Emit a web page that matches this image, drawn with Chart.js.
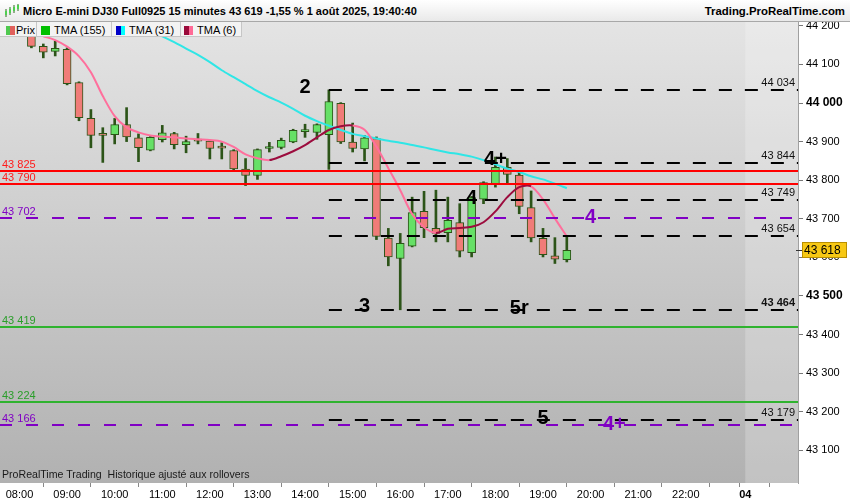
<!DOCTYPE html>
<html lang="fr">
<head>
<meta charset="utf-8">
<title>Micro E-mini DJ30 Full0925 15 minutes</title>
<script src="https://cdn.jsdelivr.net/npm/chart.js@4.4.1/dist/chart.umd.min.js"></script>
<style>
  body { margin: 0; background: #fff; }
  #wrap { position: relative; width: 850px; height: 500px; overflow: hidden; font-family: "Liberation Sans", Arial, sans-serif; }
  #c { position: absolute; left: 0; top: 0; }
  #head { position: absolute; left: 0; top: 0; width: 850px; height: 21px; background: linear-gradient(#ffffff, #e9e9e9); border-bottom: 1px solid #a8a8a8; font-weight: bold; line-height: 22px; color: #000; }
  #head .title { position: absolute; left: 23px; top: 0; font-size: 11px; }
  #head .site { position: absolute; right: 5px; top: 0; font-size: 11.4px; }
  #head svg { position: absolute; left: 4px; top: 4px; }
  .leg { position: absolute; top: 22px; height: 15px; background: #f3f3f3; border-right: 1px solid #c6c6c6; border-bottom: 1px solid #c6c6c6; font-size: 11px; line-height: 16px; color: #000; white-space: nowrap; box-sizing: border-box; }
  .sw { display: inline-block; width: 9px; height: 9px; margin: 0 4px 0 0; vertical-align: -1px; }
  #foot { position: absolute; left: 2px; top: 468px; font-size: 10.6px; color: #1a1a1a; white-space: pre; }
</style>
</head>
<body>
<div id="wrap">
  <canvas id="c" width="850" height="500"></canvas>
  <div id="head">
    <svg width="16" height="14" viewBox="0 0 16 14">
      <line x1="2" y1="5" x2="2" y2="13" stroke="#2f6a1f" stroke-width="1"/><rect x="1" y="7" width="2" height="4" fill="#4fcf4f"/>
      <line x1="6" y1="3" x2="6" y2="11" stroke="#2f6a1f" stroke-width="1"/><rect x="5" y="5" width="2" height="4" fill="#4fcf4f"/>
      <line x1="10" y1="1" x2="10" y2="9" stroke="#2f6a1f" stroke-width="1"/><rect x="9" y="3" width="2" height="4" fill="#4fcf4f"/>
      <line x1="14" y1="0" x2="14" y2="7" stroke="#2f6a1f" stroke-width="1"/><rect x="13" y="1" width="2" height="4" fill="#4fcf4f"/>
    </svg>
    <span class="title">Micro E-mini DJ30 Full0925 15 minutes 43 619 -1,55 % 1 août 2025, 19:40:40</span>
    <span class="site">Trading.ProRealTime.com</span>
  </div>
  <div class="leg" style="left:0;width:37px;padding-left:6px"><i class="sw" style="background:linear-gradient(to right,#4fc94f 50%,#e0605c 50%);margin-right:1px"></i>Prix</div>
  <div class="leg" style="left:37px;width:75px;padding-left:4px"><i class="sw" style="background:#00c000"></i>TMA (155)</div>
  <div class="leg" style="left:112px;width:69px;padding-left:4px"><i class="sw" style="background:linear-gradient(to right,#0000c8 50%,#00ffff 50%)"></i>TMA (31)</div>
  <div class="leg" style="left:181px;width:61px;padding-left:3px"><i class="sw" style="background:linear-gradient(to right,#9a0a3a 50%,#ff6a96 50%)"></i>TMA (6)</div>
  <div id="foot">ProRealTime Trading  Historique ajusté aux rollovers</div>
</div>
<script>
// bougies 15 minutes
const times  = ['08:15','08:30','08:45','09:00','09:15','09:30','09:45','10:00','10:15','10:30','10:45','11:00',
                '11:15','11:30','11:45','12:00','12:15','12:30','12:45','13:00','13:15','13:30','13:45','14:00',
                '14:15','14:30','14:45','15:00','15:15','15:30','15:45','16:00','16:15','16:30','16:45','17:00',
                '17:15','17:30','17:45','18:00','18:15','18:30','18:45','19:00','19:15','19:30'];
const opens  = [44185,44147,44134,44139,44053,43960,43918,43918,43944,43910,43878,43905,
                43921,43892,43903,43901,43885,43877,43829,43812,43882,43885,43899,43926,
                43924,43918,43999,43899,43881,43908,43650,43597,43629,43719,43675,43664,
                43690,43612,43751,43790,43833,43813,43729,43649,43604,43594];
const highs  = [44200,44153,44160,44143,44055,43983,43936,43960,43988,43920,43913,43942,
                43924,43914,43921,43903,43897,43879,43856,43881,43898,43909,43932,43945,
                43946,44034,44001,43948,43916,43912,43675,43662,43756,43771,43774,43756,
                43739,43758,43796,43860,43856,43823,43772,43675,43651,43653];
const lows   = [44143,44117,44122,44047,43954,43884,43846,43894,43900,43848,43876,43899,
                43881,43871,43894,43855,43855,43827,43786,43802,43873,43881,43897,43911,
                43906,43828,43895,43873,43850,43646,43578,43464,43627,43651,43640,43640,
                43601,43601,43739,43782,43790,43713,43640,43601,43584,43588];
const closes = [44147,44132,44142,44050,43962,43916,43916,43944,43912,43884,43911,43923,
                43892,43900,43901,43882,43883,43829,43812,43879,43887,43903,43929,43928,
                43944,44004,43899,43882,43910,43654,43601,43636,43716,43677,43662,43696,
                43616,43755,43794,43833,43815,43732,43650,43607,43595,43618];

// moyennes mobiles triangulaires
const tma6  = [null,44173,44163,44146,44121,44080,44018,43966,43937,43924,43916,43913,
               43911,43908,43906,43904,43900,43886,43867,43857,43852,43862,43875,43891,
               43911,43930,43940,43942,43931,43887,43831,43774,43712,43678,43663,43674,
               43676,43679,43691,43719,43756,43782,43784,43750,43701,43654];
const tma31 = [null,null,null,null,null,null,null,null,null,null,44189,44173,
               44158,44141,44125,44106,44085,44067,44049,44031,44015,44001,43985,43967,
               43953,43941,43930,43920,43914,43908,43902,43897,43891,43885,43878,43872,
               43867,43861,43852,43841,43830,43821,43810,43802,43791,43779];

// niveaux horizontaux
const redLevels    = [43825, 43790];
const greenLevels  = [43419, 43224];
const purpleLevels = [43702, 43166];
const blackLevels  = [44034, 43844, 43749, 43654, 43464, 43179];
const blackStart   = '14:30';

// repères de vagues
const blackMarks      = ['2', '3', '4', '4+', '5r', '5'];
const blackMarkTimes  = ['14:00', '15:15', '17:30', '18:00', '18:30', '19:00'];
const blackMarkPrices = [44042, 43476, 43756, 43856, 43471, 43186];
const purpleMarks      = ['4', '4+'];
const purpleMarkTimes  = ['20:00', '20:30'];
const purpleMarkPrices = [43707, 43170];

// axes
const yTicks = [43100,43200,43300,43400,43500,43600,43700,43800,43900,44000,44100,44200];
const yBold  = [44000, 43500];
const xTickValues = [8,9,10,11,12,13,14,15,16,17,18,19,20,21,22,23,23.25,24.25];
const xTickLabels = ['08:00','09:00','10:00','11:00','12:00','13:00','14:00','15:00','16:00','17:00',
                     '18:00','19:00','20:00','21:00','22:00','','04',''];
const nextDay = 23.25;

const GREEN = '#66e066', RED = '#f07c78', EDGE = '#2c5418';
const PINK = '#ff6f9c', CRIMSON = '#9c0c3e', CYAN = '#2fe6e6', PURPLE = '#8000c4';
const FONT = '"Liberation Sans", Arial, sans-serif';

function hours(t) { const [h, m] = t.split(':').map(Number); return h + m / 60; }
function fmt(n) { return String(n).replace(/\B(?=(\d{3})+(?!\d))/g, ' '); }

const levelsPlugin = {
  id: 'levels',
  beforeDatasetsDraw(chart) {
    const { ctx, chartArea: a, scales: { x } } = chart;
    ctx.save();
    const g = ctx.createLinearGradient(0, a.top, 0, a.bottom);
    g.addColorStop(0, '#e4e4e4');
    g.addColorStop(1, '#b1b1b1');
    ctx.fillStyle = g;
    ctx.fillRect(a.left, a.top, a.right - a.left, a.bottom - a.top);
    const nx = x.getPixelForValue(nextDay);
    ctx.fillStyle = 'rgba(255,255,255,0.22)';
    ctx.fillRect(nx, a.top, a.right - nx, a.bottom - a.top);
    ctx.restore();
  },
  afterDatasetsDraw(chart) {
    const { ctx, chartArea: a, scales: { x, y } } = chart;
    ctx.save();
    ctx.beginPath();
    ctx.rect(a.left, a.top, a.right - a.left, a.bottom - a.top);
    ctx.clip();

    const hline = (p, color, dash, x0) => {
      const py = Math.round(y.getPixelForValue(p));
      ctx.strokeStyle = color;
      ctx.lineWidth = 2;
      ctx.setLineDash(dash);
      ctx.beginPath();
      ctx.moveTo(x0, py);
      ctx.lineTo(a.right, py);
      ctx.stroke();
      return py;
    };
    const leftLabel = (p, py, color) => {
      ctx.font = '11px ' + FONT;
      ctx.fillStyle = color;
      ctx.textAlign = 'left';
      ctx.textBaseline = 'alphabetic';
      ctx.fillText(fmt(p), a.left + 2, py - 3);
    };

    purpleLevels.forEach(p => leftLabel(p, hline(p, PURPLE, [12, 14], a.left), PURPLE));
    greenLevels.forEach(p => leftLabel(p, hline(p, '#2fb32f', [], a.left), '#2a9e2a'));
    redLevels.forEach(p => leftLabel(p, hline(p, '#ff0000', [], a.left), '#ff1a1a'));

    const bx = x.getPixelForValue(hours(blackStart));
    blackLevels.forEach(p => {
      const py = hline(p, '#000', [13, 13], bx);
      ctx.font = (p === 43464 ? 'bold ' : '') + '11px ' + FONT;
      ctx.fillStyle = '#111';
      ctx.textAlign = 'right';
      ctx.textBaseline = 'alphabetic';
      ctx.fillText(fmt(p), a.right - 3, py - 4);
    });

    ctx.font = 'bold 20px ' + FONT;
    ctx.textAlign = 'center';
    ctx.textBaseline = 'middle';
    ctx.fillStyle = '#000';
    blackMarks.forEach((m, i) => ctx.fillText(m, x.getPixelForValue(hours(blackMarkTimes[i])), y.getPixelForValue(blackMarkPrices[i]) + 1));
    ctx.fillStyle = PURPLE;
    purpleMarks.forEach((m, i) => ctx.fillText(m, x.getPixelForValue(hours(purpleMarkTimes[i])), y.getPixelForValue(purpleMarkPrices[i]) + 1));
    ctx.restore();
  },
  afterDraw(chart) {
    // étiquette du dernier cours
    const { ctx, chartArea: a, scales: { y } } = chart;
    const last = closes[closes.length - 1];
    const py = Math.round(y.getPixelForValue(last));
    ctx.save();
    ctx.fillStyle = '#f7c814';
    ctx.strokeStyle = '#b98f00';
    ctx.lineWidth = 1;
    ctx.fillRect(a.right + 4, py - 8, 45, 16);
    ctx.strokeRect(a.right + 4.5, py - 7.5, 44, 15);
    ctx.strokeStyle = '#333';
    ctx.beginPath();
    ctx.moveTo(a.right - 2, py + 0.5);
    ctx.lineTo(a.right + 4, py + 0.5);
    ctx.stroke();
    ctx.fillStyle = '#000';
    ctx.font = '12px ' + FONT;
    ctx.textAlign = 'left';
    ctx.textBaseline = 'middle';
    ctx.fillText(fmt(last), a.right + 6, py + 1);
    ctx.restore();
  }
};

const xs = times.map(hours);

new Chart(document.getElementById('c'), {
  type: 'bar',
  data: {
    datasets: [
      {
        type: 'line', label: 'TMA (6)', order: 0,
        data: xs.map((v, i) => ({ x: v, y: tma6[i] })),
        borderColor: PINK, borderWidth: 2, pointRadius: 0, tension: 0.3,
        segment: { borderColor: c => c.p1.parsed.y > c.p0.parsed.y ? CRIMSON : PINK }
      },
      {
        type: 'line', label: 'TMA (31)', order: 0,
        data: xs.map((v, i) => ({ x: v, y: tma31[i] })),
        borderColor: CYAN, borderWidth: 2, pointRadius: 0, tension: 0.3
      },
      {
        label: 'Prix', order: 1,
        data: xs.map((v, i) => ({ x: v, y: [opens[i], closes[i]] })),
        backgroundColor: closes.map((c, i) => c >= opens[i] ? GREEN : RED),
        borderColor: EDGE, borderWidth: 1, borderSkipped: false,
        barThickness: 8, minBarLength: 2, grouped: false
      },
      {
        label: 'Mèches', order: 2,
        data: xs.map((v, i) => ({ x: v, y: [lows[i], highs[i]] })),
        backgroundColor: EDGE, barThickness: 2, grouped: false
      }
    ]
  },
  options: {
    responsive: false,
    animation: false,
    devicePixelRatio: 1,
    layout: { padding: { top: 22, left: 0, right: 0, bottom: 0 } },
    plugins: { legend: { display: false }, tooltip: { enabled: false } },
    scales: {
      x: {
        type: 'linear', min: 7.59, max: 24.358, offset: false,
        afterBuildTicks: s => { s.ticks = xTickValues.map(v => ({ value: v })); },
        afterFit: s => { s.height = 17; },
        grid: { drawOnChartArea: false, drawTicks: true, tickLength: 4, color: '#888' },
        border: { display: false },
        ticks: {
          autoSkip: false, maxRotation: 0, padding: 1, color: '#000',
          font: c => ({ family: FONT, size: 11, weight: c.tick && c.tick.value === nextDay ? 'bold' : 'normal' }),
          callback: (v, i) => xTickLabels[i]
        }
      },
      y: {
        type: 'linear', position: 'right', min: 43015, max: 44210,
        afterBuildTicks: s => { s.ticks = yTicks.map(v => ({ value: v })); },
        afterFit: s => { s.width = 52; },
        grid: { drawOnChartArea: false, drawTicks: true, tickLength: 5, color: '#777' },
        border: { display: true, color: '#a0a0a0' },
        ticks: {
          padding: 3, color: '#000',
          font: c => yBold.includes(c.tick && c.tick.value)
            ? { family: FONT, size: 12, weight: 'bold' }
            : { family: FONT, size: 11, weight: 'normal' },
          callback: v => fmt(v)
        }
      }
    }
  },
  plugins: [levelsPlugin]
});
</script>
</body>
</html>
